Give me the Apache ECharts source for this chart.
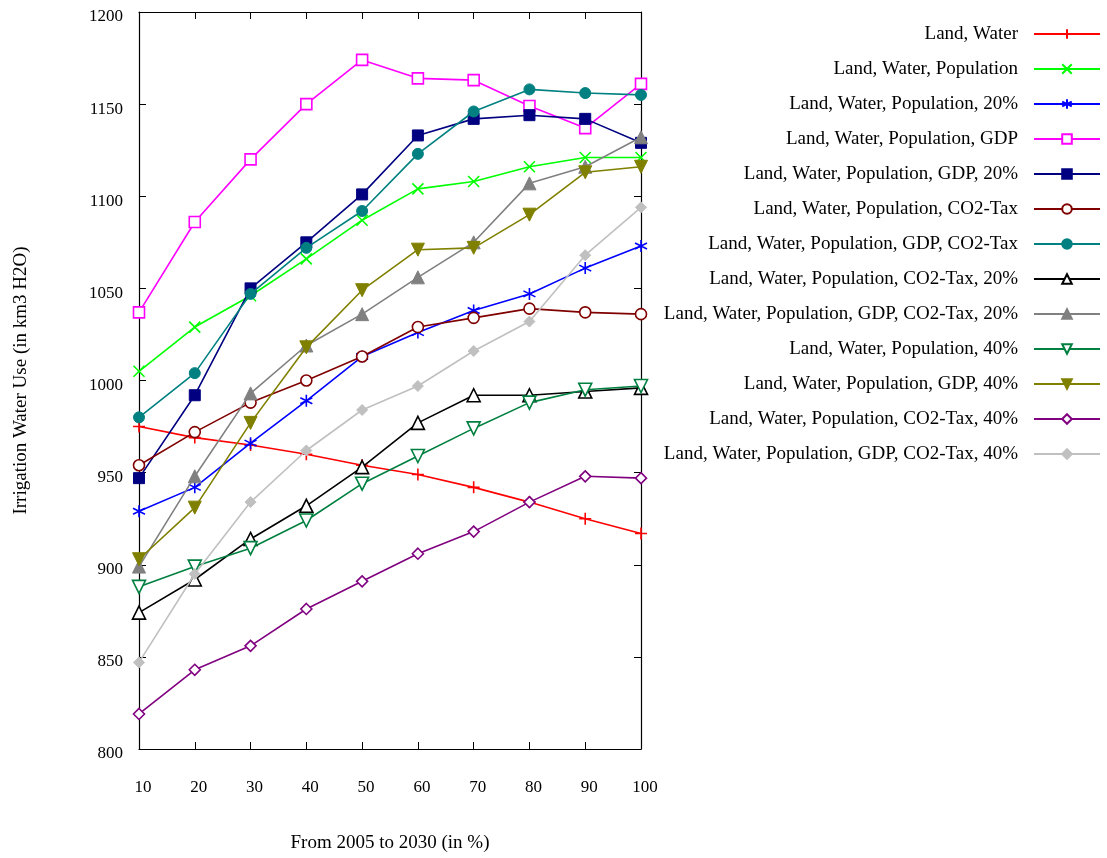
<!DOCTYPE html>
<html><head><meta charset="utf-8">
<script src="https://cdn.jsdelivr.net/npm/echarts@6/dist/echarts.min.js"></script>
<style>html,body{margin:0;padding:0;background:#fff}#c{width:1107px;height:858px}</style>
</head><body><div id="c"></div>
<script>
const xValues = [10, 20, 30, 40, 50, 60, 70, 80, 90, 100];
const seriesNames = [
  'Land, Water',
  'Land, Water, Population',
  'Land, Water, Population, 20%',
  'Land, Water, Population, GDP',
  'Land, Water, Population, GDP, 20%',
  'Land, Water, Population, CO2-Tax',
  'Land, Water, Population, GDP, CO2-Tax',
  'Land, Water, Population, CO2-Tax, 20%',
  'Land, Water, Population, GDP, CO2-Tax, 20%',
  'Land, Water, Population, 40%',
  'Land, Water, Population, GDP, 40%',
  'Land, Water, Population, CO2-Tax, 40%',
  'Land, Water, Population, GDP, CO2-Tax, 40%'
];
const landWater = [975, 969, 965, 960, 954, 949, 942, 934, 925, 917];
const landWaterPop = [1005, 1029, 1046, 1066, 1087, 1104, 1108, 1116, 1121, 1121];
const landWaterPop20 = [929, 942, 966, 989, 1013, 1026, 1038, 1047, 1061, 1073];
const landWaterPopGDP = [1037, 1086, 1120, 1150, 1174, 1164, 1163, 1149, 1137, 1161];
const landWaterPopGDP20 = [947, 992, 1050, 1075, 1101, 1133, 1142, 1144, 1142, 1129];
const landWaterPopCO2 = [954, 972, 988, 1000, 1013, 1029, 1034, 1039, 1037, 1036];
const landWaterPopGDPCO2 = [980, 1004, 1047, 1072, 1092, 1123, 1146, 1158, 1156, 1155];
const landWaterPopCO220 = [874, 892, 914, 932, 953, 977, 992, 992, 994, 996];
const landWaterPopGDPCO220 = [899, 948, 993, 1019, 1036, 1056, 1075, 1107, 1116, 1132];
const landWaterPop40 = [888, 899, 909, 924, 944, 959, 974, 988, 995, 997];
const landWaterPopGDP40 = [903, 931, 977, 1018, 1049, 1071, 1072, 1090, 1113, 1116];
const landWaterPopCO240 = [819, 843, 856, 876, 891, 906, 918, 934, 948, 947];
const landWaterPopGDPCO240 = [847, 895, 934, 962, 984, 997, 1016, 1032, 1068, 1094];
const yTicks = [800, 850, 900, 950, 1000, 1050, 1100, 1150, 1200];

const allData = [landWater, landWaterPop, landWaterPop20, landWaterPopGDP, landWaterPopGDP20,
  landWaterPopCO2, landWaterPopGDPCO2, landWaterPopCO220, landWaterPopGDPCO220,
  landWaterPop40, landWaterPopGDP40, landWaterPopCO240, landWaterPopGDPCO240];
const colors = ['#ff0000', '#00ff00', '#0000ff', '#ff00ff', '#000080', '#800000', '#008080',
  '#000000', '#808080', '#008040', '#808000', '#800080', '#c0c0c0'];
const PLUS = 'path://M5,0 L5,10 M0,5 L10,5';
const CROSS = 'path://M0,0 L10,10 M10,0 L0,10';
const STAR = 'path://M5,0 L5,10 M0,2.5 L10,7.5 M10,2.5 L0,7.5';
const SQ = 'path://M0,0 L10,0 L10,10 L0,10 Z';
const TRI = 'path://M5,0 L10,9 L0,9 Z';
const TRID = 'path://M0,0 L10,0 L5,9 Z';
const DIA = 'path://M5,0 L10,5 L5,10 L0,5 Z';
// [symbol, filled, size]
const marks = [
  [PLUS, 'stroke', 12], [CROSS, 'stroke', 11], [STAR, 'stroke', 12], [SQ, 'empty', 11],
  [SQ, 'fill', 11], ['circle', 'empty', 11], ['circle', 'fill', 11], [TRI, 'empty', 13],
  [TRI, 'fill', 13], [TRID, 'empty', 13], [TRID, 'fill', 13], [DIA, 'empty', 11], [DIA, 'fill', 11]
];

const series = seriesNames.map((name, i) => {
  const c = colors[i];
  const m = marks[i];
  let itemStyle;
  if (m[1] === 'fill') itemStyle = { color: c, borderColor: c, borderWidth: 1 };
  else if (m[1] === 'empty') itemStyle = { color: '#ffffff', borderColor: c, borderWidth: 1.6 };
  else itemStyle = { color: c, borderColor: c, borderWidth: 1.6 };
  return {
    name: name,
    type: 'line',
    data: xValues.map((x, j) => [x, allData[i][j]]),
    symbol: m[0],
    symbolSize: m[2],
    showAllSymbol: true,
    lineStyle: { color: c, width: 1.6 },
    itemStyle: itemStyle,
    emphasis: { disabled: true },
    animation: false,
    z: 2 + i
  };
});

const font = 'Liberation Serif, Times New Roman, serif';
const chart = echarts.init(document.getElementById('c'), null, { renderer: 'canvas' });
chart.setOption({
  backgroundColor: '#ffffff',
  animation: false,
  grid: { left: 139, top: 12, right: 466, bottom: 108, containLabel: false },
  legend: {
    orient: 'vertical',
    right: 1,
    top: 19,
    align: 'right',
    itemWidth: 66,
    itemHeight: 12,
    itemGap: 15,
    textStyle: { fontFamily: font, fontSize: 19, lineHeight: 20, color: '#000', padding: [0, 11, 0, 0] },
    data: seriesNames
  },
  xAxis: [{
    type: 'value', min: 10, max: 100, interval: 10,
    name: 'From 2005 to 2030 (in %)', nameLocation: 'middle', nameGap: 85,
    nameTextStyle: { fontFamily: font, fontSize: 19, color: '#000' },
    axisLine: { show: true, onZero: false, lineStyle: { color: '#000', width: 1.2 } },
    axisTick: { show: true, inside: true, length: 7, lineStyle: { color: '#000' } },
    axisLabel: { fontFamily: font, fontSize: 17, color: '#000', margin: 30, padding: [0, 0, 0, 8] },
    splitLine: { show: false }
  }, {
    type: 'value', min: 10, max: 100, interval: 10, position: 'top',
    axisLine: { show: true, onZero: false, lineStyle: { color: '#000', width: 1.2 } },
    axisTick: { show: true, inside: true, length: 7, lineStyle: { color: '#000' } },
    axisLabel: { show: false }, splitLine: { show: false }
  }],
  yAxis: [{
    type: 'value', min: 800, max: 1200, interval: 50,
    name: 'Irrigation Water Use (in km3 H2O)', nameLocation: 'middle', nameGap: 108,
    nameTextStyle: { fontFamily: font, fontSize: 19, color: '#000' },
    axisLine: { show: true, onZero: false, lineStyle: { color: '#000', width: 1.2 } },
    axisTick: { show: true, inside: true, length: 7, lineStyle: { color: '#000' } },
    axisLabel: { fontFamily: font, fontSize: 17, color: '#000', margin: 16,
      verticalAlign: 'top', lineHeight: 10,
      formatter: v => (yTicks.indexOf(v) >= 0 ? String(v) : '') },
    splitLine: { show: false }
  }, {
    type: 'value', min: 800, max: 1200, interval: 50, position: 'right',
    axisLine: { show: true, onZero: false, lineStyle: { color: '#000', width: 1.2 } },
    axisTick: { show: true, inside: true, length: 7, lineStyle: { color: '#000' } },
    axisLabel: { show: false }, splitLine: { show: false }
  }],
  series: series
});
</script></body></html>
